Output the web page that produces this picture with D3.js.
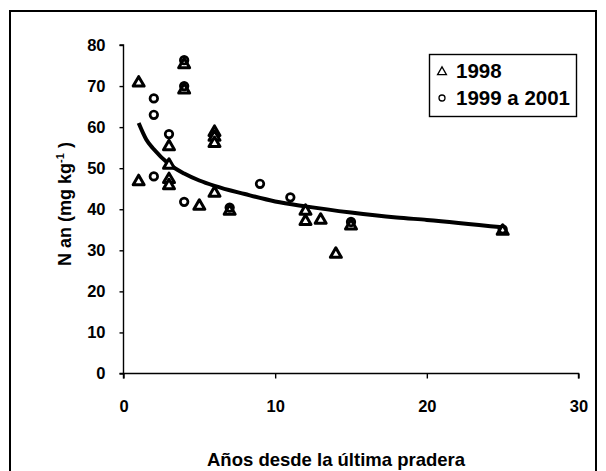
<!DOCTYPE html>
<html>
<head>
<meta charset="utf-8">
<script src="https://cdn.jsdelivr.net/npm/d3@7"></script>
<style>
  body { margin: 0; background: #fff; }
  svg { font-family: 'Liberation Sans', Arial, sans-serif; font-weight: bold; }
</style>
</head>
<body>
<div id="chart"></div>
<script>
// 1998 points [years since last pasture, N an]
const pts1998 = [
  [1, 71], [1, 47], [3, 55.5], [3, 51], [3, 47.5], [3, 46],
  [4, 75.5], [4, 69.3], [5, 41], [6, 59], [6, 57.8], [6, 56.3],
  [6, 44.2], [7, 39.8], [12, 39.8], [12, 37.3], [13, 37.6],
  [14, 29.3], [15, 36.2], [25, 34.9]
];
// 1999 a 2001 points
const pts1999 = [
  [2, 67], [2, 63], [2, 48], [3, 58.3], [4, 76.3], [4, 70],
  [4, 41.8], [7, 40.4], [9, 46.2], [11, 42.9], [15, 36.9], [25, 35.1]
];
// trend line
const trend = [
  [1, 61], [1.5, 57], [2, 54.6], [3, 51], [4, 48.7], [5, 47], [6, 45.7],
  [8, 43.7], [10, 41.9], [12, 40.7], [15, 39.2], [18, 38], [20, 37.4], [25, 35.6]
];
const xTicks = [0, 10, 20, 30];
const yTicks = [0, 10, 20, 30, 40, 50, 60, 70, 80];
const legendLabels = ['1998', '1999 a 2001'];

const w = 606, h = 471;
const svg = d3.select('#chart').append('svg')
  .attr('width', w).attr('height', h);

// outer frame
svg.append('rect')
  .attr('x', 10).attr('y', 11)
  .attr('width', 586).attr('height', 480)
  .attr('fill', 'none').attr('stroke', '#000').attr('stroke-width', 2);

const x = d3.scaleLinear().domain([0, 30]).range([123.5, 578.5]);
const y = d3.scaleLinear().domain([0, 80]).range([373.5, 45]);

// axes
const xAxis = d3.axisBottom(x).tickValues(xTicks).tickSize(5).tickPadding(22);
const yAxis = d3.axisLeft(y).tickValues(yTicks).tickSize(4).tickPadding(14);

const gx = svg.append('g')
  .attr('transform', 'translate(0,' + y(0) + ')')
  .call(xAxis);
const gy = svg.append('g')
  .attr('transform', 'translate(' + x(0) + ',0)')
  .call(yAxis);
[gx, gy].forEach(g => {
  g.selectAll('path, line').attr('stroke', '#000').attr('stroke-width', 1.4);
  g.selectAll('text').attr('fill', '#000')
    .style('font-size', '16.5px').style('font-weight', 'bold')
    .style('font-family', "'Liberation Sans', Arial, sans-serif");
});
gx.select('.domain').attr('d', 'M' + x(0) + ',5V0H' + x(30) + 'V5');
gy.select('.domain').attr('d', 'M-4,' + y(80) + 'H0V' + y(0) + 'H-4');

// trend line
const line = d3.line()
  .x(d => x(d[0])).y(d => y(d[1]))
  .curve(d3.curveMonotoneX);
svg.append('path')
  .datum(trend)
  .attr('d', line)
  .attr('fill', 'none')
  .attr('stroke', '#000')
  .attr('stroke-width', 4);

// markers
const tri = d3.symbol().type(d3.symbolTriangle).size(52);
svg.selectAll('.tri')
  .data(pts1998)
  .enter().append('path')
  .attr('class', 'tri')
  .attr('d', tri)
  .attr('transform', d => 'translate(' + x(d[0]) + ',' + (y(d[1]) + 1) + ')')
  .attr('fill', '#fff').attr('stroke', '#000').attr('stroke-width', 3)
  .attr('stroke-linejoin', 'round');

svg.selectAll('.circ')
  .data(pts1999)
  .enter().append('circle')
  .attr('class', 'circ')
  .attr('cx', d => x(d[0]))
  .attr('cy', d => y(d[1]))
  .attr('r', 3.8)
  .attr('fill', 'none').attr('stroke', '#000').attr('stroke-width', 2.7);

// legend
const lg = svg.append('g');
lg.append('rect')
  .attr('x', 429.5).attr('y', 54.5)
  .attr('width', 147).attr('height', 62)
  .attr('fill', '#fff').attr('stroke', '#000').attr('stroke-width', 1.4);
const items = lg.selectAll('.item')
  .data(legendLabels)
  .enter().append('g')
  .attr('transform', (d, i) => 'translate(0,' + (71 + i * 27) + ')');
items.each(function (d, i) {
  const g = d3.select(this);
  if (i === 0) {
    g.append('path')
      .attr('d', d3.symbol().type(d3.symbolTriangle).size(34))
      .attr('transform', 'translate(442,1)')
      .attr('fill', 'none').attr('stroke', '#000').attr('stroke-width', 1.3);
  } else {
    g.append('circle')
      .attr('cx', 442).attr('cy', 0).attr('r', 3)
      .attr('fill', 'none').attr('stroke', '#000').attr('stroke-width', 1.3);
  }
  g.append('text')
    .attr('x', 456).attr('y', 7)
    .style('font-size', '20.5px')
    .text(d);
});

// axis titles
svg.append('text')
  .attr('x', 207).attr('y', 466)
  .style('font-size', '18.5px')
  .text('Años desde la última pradera');

const yt = svg.append('text')
  .attr('transform', 'translate(71,204) rotate(-90)')
  .attr('text-anchor', 'middle')
  .style('font-size', '18px');
yt.append('tspan').text('N an (mg kg');
yt.append('tspan').attr('dy', -7).style('font-size', '11px').text('-1');
yt.append('tspan').attr('dy', 7).text(' )');
</script>
</body>
</html>
